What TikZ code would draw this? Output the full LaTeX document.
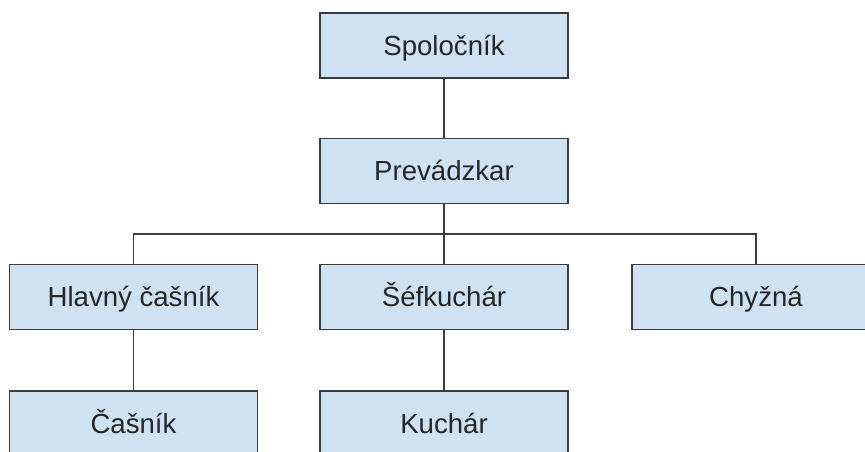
\documentclass[tikz,border=0pt]{standalone}
\usepackage{fontspec}
\setmainfont{Liberation Sans}
\usepackage{tikz}
\usetikzlibrary{calc}
\definecolor{boxfill}{HTML}{CFE2F3}
\definecolor{boxline}{HTML}{3C3C3C}
\tikzset{
  role/.style={shape=rectangle,draw=boxline,fill=boxfill,line width=1.6pt,
    minimum width=248pt,minimum height=65pt,inner sep=0pt,
    text height=19.8pt,text depth=0pt,
    text=black!85,font=\fontsize{27.6}{32}\selectfont},
  link/.style={draw=boxline,line width=1.6pt}
}
\newcommand{\rolebox}[4]{\node[role] (#1) at ( #2 , #3 ) {#4};}

\begin{document}
\begin{tikzpicture}[x=1pt,y=-1pt]
        \useasboundingbox (0,0) rectangle (865,452);
        \clip (0,0) rectangle (865,452);
        % row1
        \rolebox{spol}{444}{45.5}{Spoločník}
        % row2
        \rolebox{prev}{444}{171}{Prevádzkar}
        % row3
        \rolebox{hlav}{133.5}{297}{Hlavný čašník}
        \rolebox{sef}{444}{297}{Šéfkuchár}
        \rolebox{chyz}{756}{297}{Chyžná}
        % row4
        \rolebox{cas}{133.5}{423.5}{Čašník}
        \rolebox{kuch}{444}{423.5}{Kuchár}

        % lines
        \coordinate (bus) at (444,234);
        \draw[link] (spol) -- (prev);
        \draw[link] (prev) -- (sef);
        \draw[link] (hlav.north) -- (hlav.north |- bus) -- (chyz.north |- bus) -- (chyz.north);
        \draw[link] (hlav) -- (cas);
        \draw[link] (sef) -- (kuch);
    \end{tikzpicture}
\end{document}
